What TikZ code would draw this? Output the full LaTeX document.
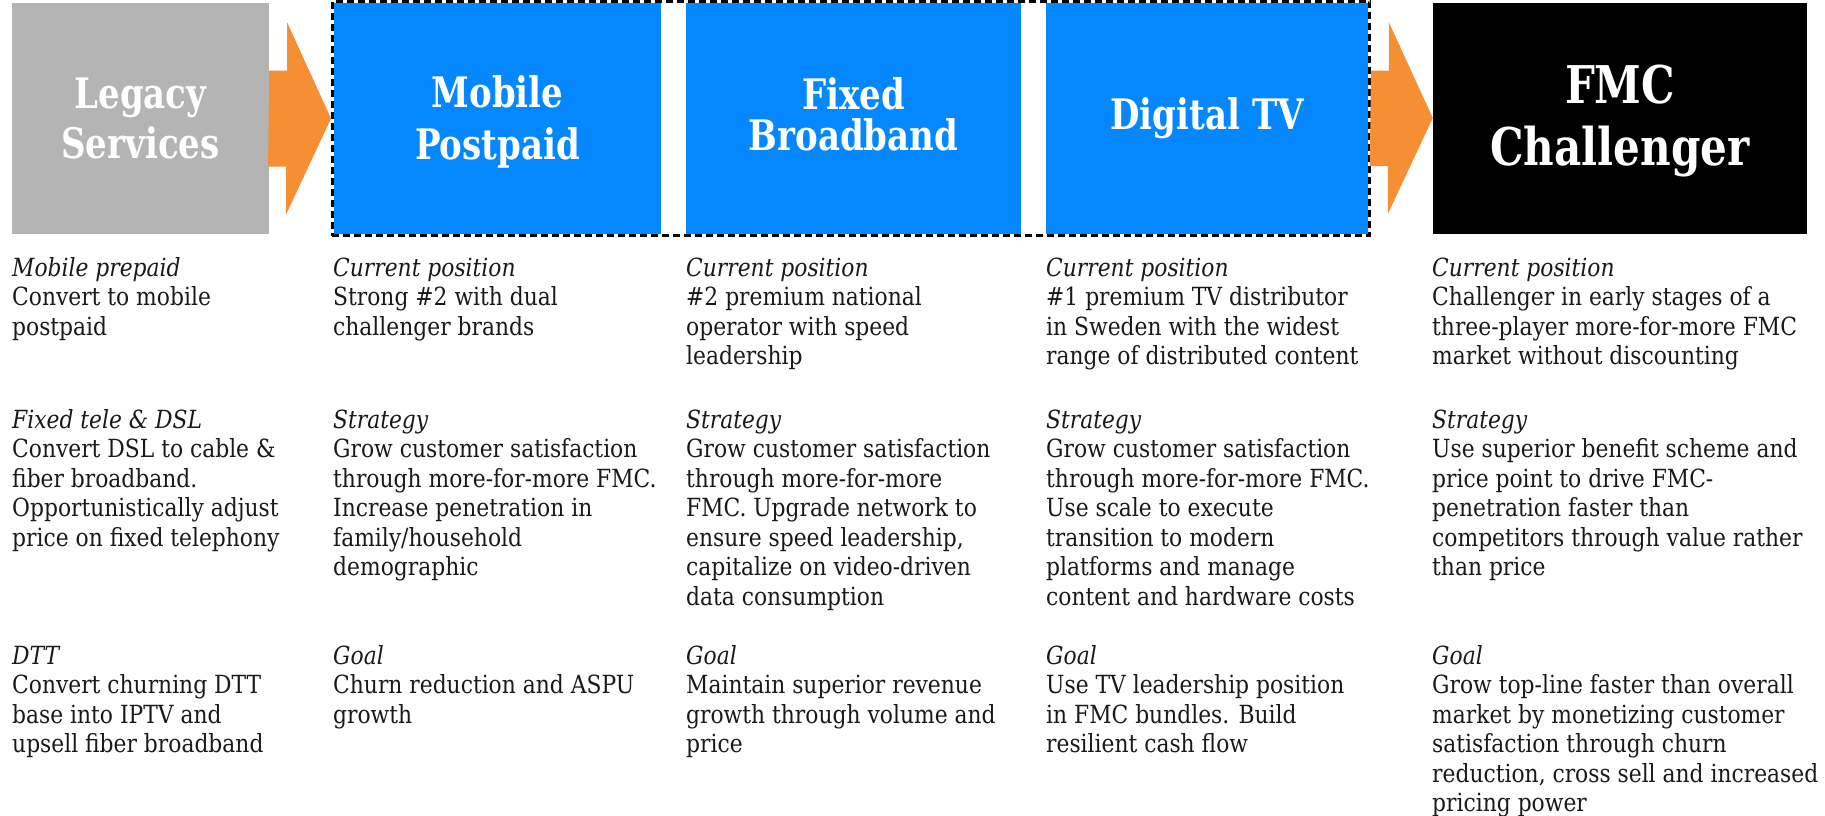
\documentclass[tikz,border=0pt]{standalone}
\usepackage{fontspec}
\setmainfont{DejaVu Serif Condensed}[FakeStretch = 0.97]
\newfontfamily\flowheadfont{DejaVu Serif Condensed Bold}[FakeStretch = 0.9]
\usepackage{tikz}
\usetikzlibrary{positioning,calc,fit}
\definecolor{flowtextcolor}{rgb}{0.1, 0.1, 0.1}
\definecolor{flowcolor1}{rgb}{0.706, 0.706, 0.706}
\definecolor{flowcolor2}{rgb}{0.02, 0.533, 1.0}
\definecolor{flowcolor3}{rgb}{0, 0, 0}
\definecolor{flowarrowcolor}{rgb}{0.957, 0.561, 0.2}
\tikzstyle{flowbox} = [rectangle, minimum height = 231pt, inner sep = 0pt, text = white, align = center, font = \flowheadfont\fontsize{42}{50}\selectfont]
\tikzstyle{flowtitle} = [inner sep = 0pt, text = white, align = center]
\tikzstyle{flowcl1} = [fill = flowcolor1]
\tikzstyle{flowcl2} = [fill = flowcolor2]
\tikzstyle{flowcl3} = [fill = flowcolor3]
\tikzstyle{flowframe} = [draw, line width = 2.5pt, dash pattern = on 7pt off 4pt, inner sep = 1.5pt]
\tikzstyle{flowtext} = [anchor = north west, inner sep = 0pt, align = left, text = flowtextcolor, font = \fontsize{25}{29.5}\selectfont]
% block arrow: short shaft, then a head whose tip sits on the target
\tikzstyle{flowarrow} = [draw = none, fill = flowarrowcolor, to path = {($(\tikztostart)+(0,-48)$) -- ++(18,0) -- ++(0,-48) -- (\tikztotarget) -- ++(-45,96) -- ++(0,-48) -- ++(-18,0) -- cycle}]

\begin{document}
\begin{tikzpicture}[x = 1pt, y = -1pt]
\useasboundingbox (0,0) rectangle (1825,815);
\node[flowbox, flowcl1, minimum width = 257pt] (legacy) at (140.5, 118.5) {Legacy\\Services};
\node[flowbox, flowcl2, minimum width = 327pt] (mobile) at (497.5, 118.5) {};
\node[flowbox, flowcl2, minimum width = 335pt] (fixed) at (853.5, 118.5) {};
\node[flowbox, flowcl2, minimum width = 322pt] (digitaltv) at (1207, 118.5) {Digital TV};
\node[flowbox, flowcl3, minimum width = 374pt] (fmc) at (1620, 118) {};
\node[flowframe, fit = (mobile) (digitaltv)] (frame) {};
\path (legacy.east) edge[flowarrow] (frame.west);
\path (frame.east) edge[flowarrow] (fmc.west);

% two-line titles that sit a little off the box centre
\node[flowtitle, font = \flowheadfont\fontsize{42}{52}\selectfont] (mobile-title) at ($(mobile)+(0,3)$) {Mobile\\Postpaid};
\node[flowtitle, font = \flowheadfont\fontsize{42}{41}\selectfont] (fixed-title) at ($(fixed)+(0,-4)$) {Fixed\\Broadband};
\node[flowtitle, font = \flowheadfont\fontsize{52}{62}\selectfont] (fmc-title) at ($(fmc)+(0,3)$) {FMC\\Challenger};

\node[flowtext] (legacy-pos) at (12, 255.5) {\strut\textit{Mobile prepaid}\\Convert to mobile\\postpaid};
\node[flowtext] (legacy-strat) at (12, 407.5) {\strut\textit{Fixed tele \& DSL}\\Convert DSL to cable \&\\fiber broadband.\\Opportunistically adjust\\price on fixed telephony};
\node[flowtext] (legacy-goal) at (12, 643.5) {\strut\textit{DTT}\\Convert churning DTT\\base into IPTV and\\upsell fiber broadband};

\node[flowtext] (mobile-pos) at (333, 255.5) {\strut\textit{Current position}\\Strong \#2 with dual\\challenger brands};
\node[flowtext] (mobile-strat) at (333, 407.5) {\strut\textit{Strategy}\\Grow customer satisfaction\\through more-for-more FMC.\\Increase penetration in\\family/household\\demographic};
\node[flowtext] (mobile-goal) at (333, 643.5) {\strut\textit{Goal}\\Churn reduction and ASPU\\growth};

\node[flowtext] (fixed-pos) at (686, 255.5) {\strut\textit{Current position}\\\#2 premium national\\operator with speed\\leadership};
\node[flowtext] (fixed-strat) at (686, 407.5) {\strut\textit{Strategy}\\Grow customer satisfaction\\through more-for-more\\FMC. Upgrade network to\\ensure speed leadership,\\capitalize on video-driven\\data consumption};
\node[flowtext] (fixed-goal) at (686, 643.5) {\strut\textit{Goal}\\Maintain superior revenue\\growth through volume and\\price};

\node[flowtext] (digitaltv-pos) at (1046, 255.5) {\strut\textit{Current position}\\\#1 premium TV distributor\\in Sweden with the widest\\range of distributed content};
\node[flowtext] (digitaltv-strat) at (1046, 407.5) {\strut\textit{Strategy}\\Grow customer satisfaction\\through more-for-more FMC.\\Use scale to execute\\transition to modern\\platforms and manage\\content and hardware costs};
\node[flowtext] (digitaltv-goal) at (1046, 643.5) {\strut\textit{Goal}\\Use TV leadership position\\in FMC bundles. Build\\resilient cash flow};

\node[flowtext] (fmc-pos) at (1432, 255.5) {\strut\textit{Current position}\\Challenger in early stages of a\\three-player more-for-more FMC\\market without discounting};
\node[flowtext] (fmc-strat) at (1432, 407.5) {\strut\textit{Strategy}\\Use superior benefit scheme and\\price point to drive FMC-\\penetration faster than\\competitors through value rather\\than price};
\node[flowtext] (fmc-goal) at (1432, 643.5) {\strut\textit{Goal}\\Grow top-line faster than overall\\market by monetizing customer\\satisfaction through churn\\reduction, cross sell and increased\\pricing power};
\end{tikzpicture}
\end{document}
